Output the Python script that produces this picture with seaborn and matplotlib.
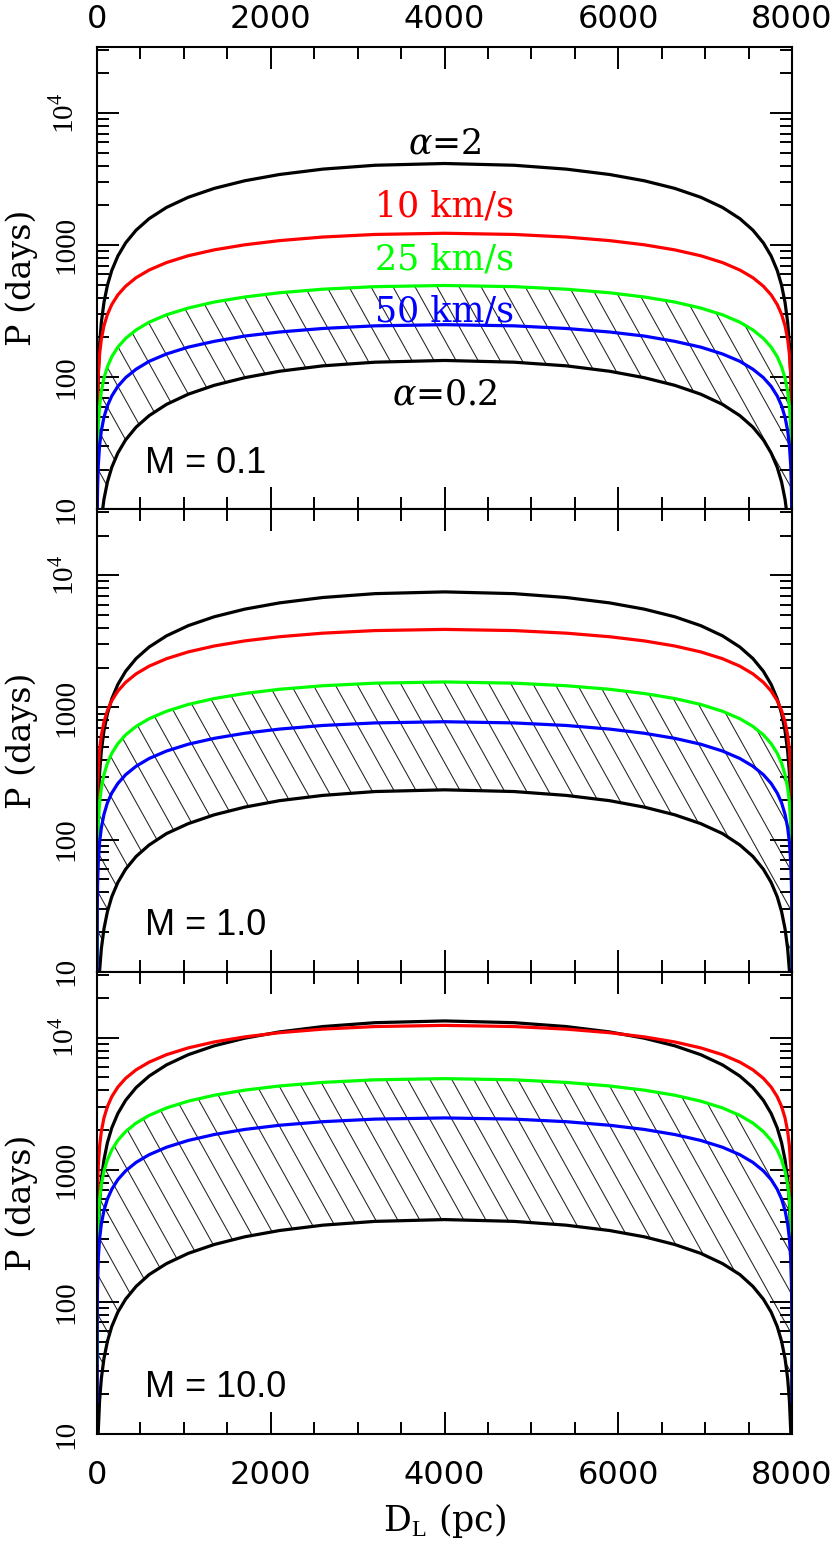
import numpy as np
import pandas as pd
import seaborn as sns
import matplotlib.pyplot as plt
from matplotlib.collections import LineCollection
from matplotlib.ticker import MultipleLocator, LogLocator, NullFormatter

plt.rcParams['font.family'] = ['Liberation Sans', 'DejaVu Sans']
plt.rcParams['mathtext.fontset'] = 'custom'
plt.rcParams['mathtext.rm'] = 'Liberation Serif'
plt.rcParams['mathtext.it'] = 'DejaVu Serif:italic'

# lens distance (pc)
D_pc = [0.1, 1, 3, 7, 15, 30, 50, 80, 120, 170, 240, 330, 450, 600, 800, 1050, 1350, 1700,
        2100, 2600, 3200, 4000, 4800, 5400, 5900, 6300, 6650, 6950, 7200, 7400, 7550, 7670,
        7760, 7830, 7880, 7920, 7950, 7970, 7985, 7993, 7997, 7999, 7999.9]

# M = 0.1
m01_a2 = [2.47, 13.9, 31.6, 59.7, 106, 177, 260, 368, 497, 643, 827, 1041, 1298, 1587, 1929,
          2303, 2690, 3071, 3426, 3763, 4025, 4150, 4025, 3763, 3426, 3071, 2690, 2303, 1929,
          1587, 1298, 1041, 827, 643, 497, 368, 260, 177, 106, 59.7, 31.6, 13.9, 2.47]
m01_v10 = [8.7, 27.5, 47.6, 72.7, 106, 150, 194, 245, 299, 355, 420, 489, 567, 648, 738,
           831, 921, 1006, 1082, 1152, 1205, 1230, 1205, 1152, 1082, 1006, 921, 831, 738,
           648, 567, 489, 420, 355, 299, 245, 194, 150, 106, 72.7, 47.6, 27.5, 8.7]
m01_v25 = [3.5, 11.1, 19.2, 29.3, 42.8, 60.5, 78.0, 98.5, 120, 143, 169, 197, 228, 261, 297,
           334, 371, 405, 436, 464, 485, 495, 485, 464, 436, 405, 371, 334, 297,
           261, 228, 197, 169, 143, 120, 98.5, 78.0, 60.5, 42.8, 29.3, 19.2, 11.1, 3.5]
m01_v50 = [1.77, 5.59, 9.68, 14.8, 21.6, 30.6, 39.4, 49.8, 60.8, 72.1, 85.3, 99.4, 115, 132, 150,
           169, 187, 205, 220, 234, 245, 250, 245, 234, 220, 205, 187, 169, 150,
           132, 115, 99.4, 85.3, 72.1, 60.8, 49.8, 39.4, 30.6, 21.6, 14.8, 9.68, 5.59, 1.77]
m01_a02 = [0.08, 0.45, 1.02, 1.93, 3.41, 5.73, 8.39, 11.9, 16.1, 20.8, 26.7, 33.6, 41.9, 51.2, 62.3,
           74.4, 86.9, 99.2, 111, 122, 130, 134, 130, 122, 111, 99.2, 86.9, 74.4, 62.3,
           51.2, 41.9, 33.6, 26.7, 20.8, 16.1, 11.9, 8.39, 5.73, 3.41, 1.93, 1.02, 0.45, 0.08]

# M = 1.0
m1_a2 = [4.46, 25.1, 57.2, 108, 191, 321, 469, 666, 899, 1162, 1495, 1881, 2346, 2868, 3486,
         4163, 4862, 5550, 6191, 6800, 7274, 7500, 7274, 6800, 6191, 5550, 4862, 4163, 3486,
         2868, 2346, 1881, 1495, 1162, 899, 666, 469, 321, 191, 108, 57.2, 25.1, 4.46]
m1_v10 = [27.6, 87.2, 151, 231, 337, 477, 615, 776, 948, 1125, 1331, 1551, 1797, 2054, 2340,
          2634, 2921, 3191, 3432, 3653, 3821, 3900, 3821, 3653, 3432, 3191, 2921, 2634, 2340,
          2054, 1797, 1551, 1331, 1125, 948, 776, 615, 477, 337, 231, 151, 87.2, 27.6]
m1_v25 = [11.0, 34.9, 60.4, 92.2, 135, 191, 246, 310, 379, 450, 532, 621, 719, 822, 936,
          1054, 1169, 1276, 1373, 1461, 1528, 1560, 1528, 1461, 1373, 1276, 1169, 1054, 936,
          822, 719, 621, 532, 450, 379, 310, 246, 191, 135, 92.2, 60.4, 34.9, 11.0]
m1_v50 = [5.51, 17.4, 30.2, 46.1, 67.5, 95.4, 123, 155, 190, 225, 266, 310, 359, 411, 468,
          527, 584, 638, 686, 731, 764, 780, 764, 731, 686, 638, 584, 527, 468,
          411, 359, 310, 266, 225, 190, 155, 123, 95.4, 67.5, 46.1, 30.2, 17.4, 5.51]
m1_a02 = [0.14, 0.80, 1.81, 3.42, 6.06, 10.2, 14.9, 21.1, 28.5, 36.9, 47.4, 59.7, 74.5, 91.0, 111,
          132, 154, 176, 197, 216, 231, 238, 231, 216, 197, 176, 154, 132, 111,
          91.0, 74.5, 59.7, 47.4, 36.9, 28.5, 21.1, 14.9, 10.2, 6.06, 3.42, 1.81, 0.80, 0.14]

# M = 10.0
m10_a2 = [7.97, 44.8, 102, 193, 341, 573, 839, 1190, 1606, 2076, 2670, 3361, 4192, 5123, 6228,
          7437, 8687, 9916, 11062, 12149, 12996, 13400, 12996, 12149, 11062, 9916, 8687, 7437, 6228,
          5123, 4192, 3361, 2670, 2076, 1606, 1190, 839, 573, 341, 193, 102, 44.8, 7.97]
m10_v10 = [87.7, 277, 480, 733, 1073, 1516, 1955, 2468, 3014, 3577, 4231, 4932, 5714, 6532, 7440,
           8374, 9288, 10145, 10912, 11616, 12150, 12400, 12150, 11616, 10912, 10145, 9288, 8374, 7440,
           6532, 5714, 4932, 4231, 3577, 3014, 2468, 1955, 1516, 1073, 733, 480, 277, 87.7]
m10_v25 = [34.6, 110, 190, 290, 424, 599, 772, 975, 1191, 1413, 1672, 1949, 2258, 2581, 2940,
           3309, 3670, 4009, 4312, 4590, 4801, 4900, 4801, 4590, 4312, 4009, 3670, 3309, 2940,
           2581, 2258, 1949, 1672, 1413, 1191, 975, 772, 599, 424, 290, 190, 110, 34.6]
m10_v50 = [17.5, 55.2, 95.6, 146, 214, 302, 389, 492, 601, 712, 843, 982, 1138, 1301, 1482,
           1668, 1850, 2021, 2174, 2314, 2420, 2470, 2420, 2314, 2174, 2021, 1850, 1668, 1482,
           1301, 1138, 982, 843, 712, 601, 492, 389, 302, 214, 146, 95.6, 55.2, 17.5]
m10_a02 = [0.25, 1.40, 3.20, 6.04, 10.7, 18.0, 26.3, 37.3, 50.3, 65.1, 83.7, 105, 131, 161, 195,
           233, 272, 311, 347, 381, 407, 420, 407, 381, 347, 311, 272, 233, 195,
           161, 131, 105, 83.7, 65.1, 50.3, 37.3, 26.3, 18.0, 10.7, 6.04, 3.20, 1.40, 0.25]

mass_labels = ['M = 0.1', 'M = 1.0', 'M = 10.0']
curve_order = ['alpha2', 'alpha02', 'v10', 'v25', 'v50']
curve_colors = {'alpha2': 'black', 'alpha02': 'black', 'v10': '#ff0000',
                'v25': '#00ff00', 'v50': '#0000ff'}
y_ticks = [10, 100, 1000, 10000]
y_ticklabels = ['10', '100', '1000', r'10$^{\mathrm{4}}$']

panels = [
    {'alpha2': m01_a2, 'alpha02': m01_a02, 'v10': m01_v10, 'v25': m01_v25, 'v50': m01_v50},
    {'alpha2': m1_a2, 'alpha02': m1_a02, 'v10': m1_v10, 'v25': m1_v25, 'v50': m1_v50},
    {'alpha2': m10_a2, 'alpha02': m10_a02, 'v10': m10_v10, 'v25': m10_v25, 'v50': m10_v50},
]

frames = []
for i, series in enumerate(panels):
    for name, vals in series.items():
        frames.append(pd.DataFrame({'D': D_pc, 'P': vals, 'curve': name, 'panel': i}))
df = pd.concat(frames, ignore_index=True)

W, H = 830, 1554
fig, axes = plt.subplots(3, 1, figsize=(W / 100, H / 100), dpi=100, sharex=True)
fig.subplots_adjust(left=97 / W, right=792 / W, top=1 - 47 / H, bottom=1 - 1434 / H, hspace=0)

for i, ax in enumerate(axes):
    ax.set_yscale('log')
    sub = df[df['panel'] == i]
    series = panels[i]

    # hatched band between 25 km/s and alpha=0.2
    band = ax.fill_between(D_pc, series['v25'], series['alpha02'],
                           facecolor='none', edgecolor='none', linewidth=0)
    segs = [[(x0, 1.0), (x0 + 0.37, 0.0)] for x0 in np.arange(-0.4, 1.05, 0.0317)]
    lc = LineCollection(segs, colors='#222222', linewidths=0.75,
                        transform=ax.transAxes, zorder=1.5)
    ax.add_collection(lc, autolim=False)
    lc.set_clip_path(band.get_paths()[0], band.get_transform())

    sns.lineplot(data=sub, x='D', y='P', hue='curve', hue_order=curve_order,
                 palette=curve_colors, estimator=None, sort=False, legend=False,
                 linewidth=2.3, ax=ax)

    ax.set_xlim(0, 8000)
    ax.set_ylim(10, 10 ** 4.5)

    ax.xaxis.set_major_locator(MultipleLocator(2000))
    ax.xaxis.set_minor_locator(MultipleLocator(500))
    ax.set_yticks(y_ticks, labels=y_ticklabels)
    ax.yaxis.set_minor_locator(LogLocator(base=10, subs=np.arange(2, 10)))
    ax.yaxis.set_minor_formatter(NullFormatter())

    ax.tick_params(which='both', direction='in', top=True, right=True, width=1.4, color='black')
    ax.tick_params(which='major', length=16)
    ax.tick_params(which='minor', length=8.5)
    ax.tick_params(axis='y', pad=13)
    ax.tick_params(axis='x', labelbottom=(i == 2), labeltop=(i == 0),
                   pad=(9 if i == 0 else 19))
    for sp in ax.spines.values():
        sp.set_linewidth(1.5)

    ax.set_ylabel('P (days)', fontfamily='DejaVu Serif', fontsize=24)
    ax.yaxis.set_label_coords(-0.085, 0.5)
    ax.set_xlabel('')

    ax.text(0.069, 0.10, mass_labels[i], transform=ax.transAxes, ha='left', va='center',
            fontsize=26)

axes[2].set_xlabel(r'D$_\mathrm{L}$ (pc)', fontfamily='DejaVu Serif', fontsize=25)
axes[2].xaxis.set_label_coords(0.5, -0.145)

top = axes[0]
lab_kw = dict(ha='center', va='center', fontfamily='DejaVu Serif', fontsize=25)
top.text(4000, 5900, r'$\alpha$=2', color='black', **lab_kw)
top.text(4000, 1950, '10 km/s', color='#ff0000', **lab_kw)
top.text(4000, 776, '25 km/s', color='#00ff00', **lab_kw)
top.text(4000, 314, '50 km/s', color='#0000ff', **lab_kw)
top.text(4000, 74, r'$\alpha$=0.2', color='black', **lab_kw)

# tick label fonts, applied last so nothing resets them
fig.canvas.draw()
for ax in axes:
    for t in ax.yaxis.get_major_ticks():
        for lab in (t.label1, t.label2):
            lab.set_fontfamily('Liberation Serif')
            lab.set_fontsize(21)
            lab.set_rotation(90)
            lab.set_verticalalignment('center')
    for t in ax.xaxis.get_major_ticks():
        for lab in (t.label1, t.label2):
            lab.set_fontfamily('DejaVu Sans')
            lab.set_fontsize(23)

fig.savefig('out.png', dpi=100)
